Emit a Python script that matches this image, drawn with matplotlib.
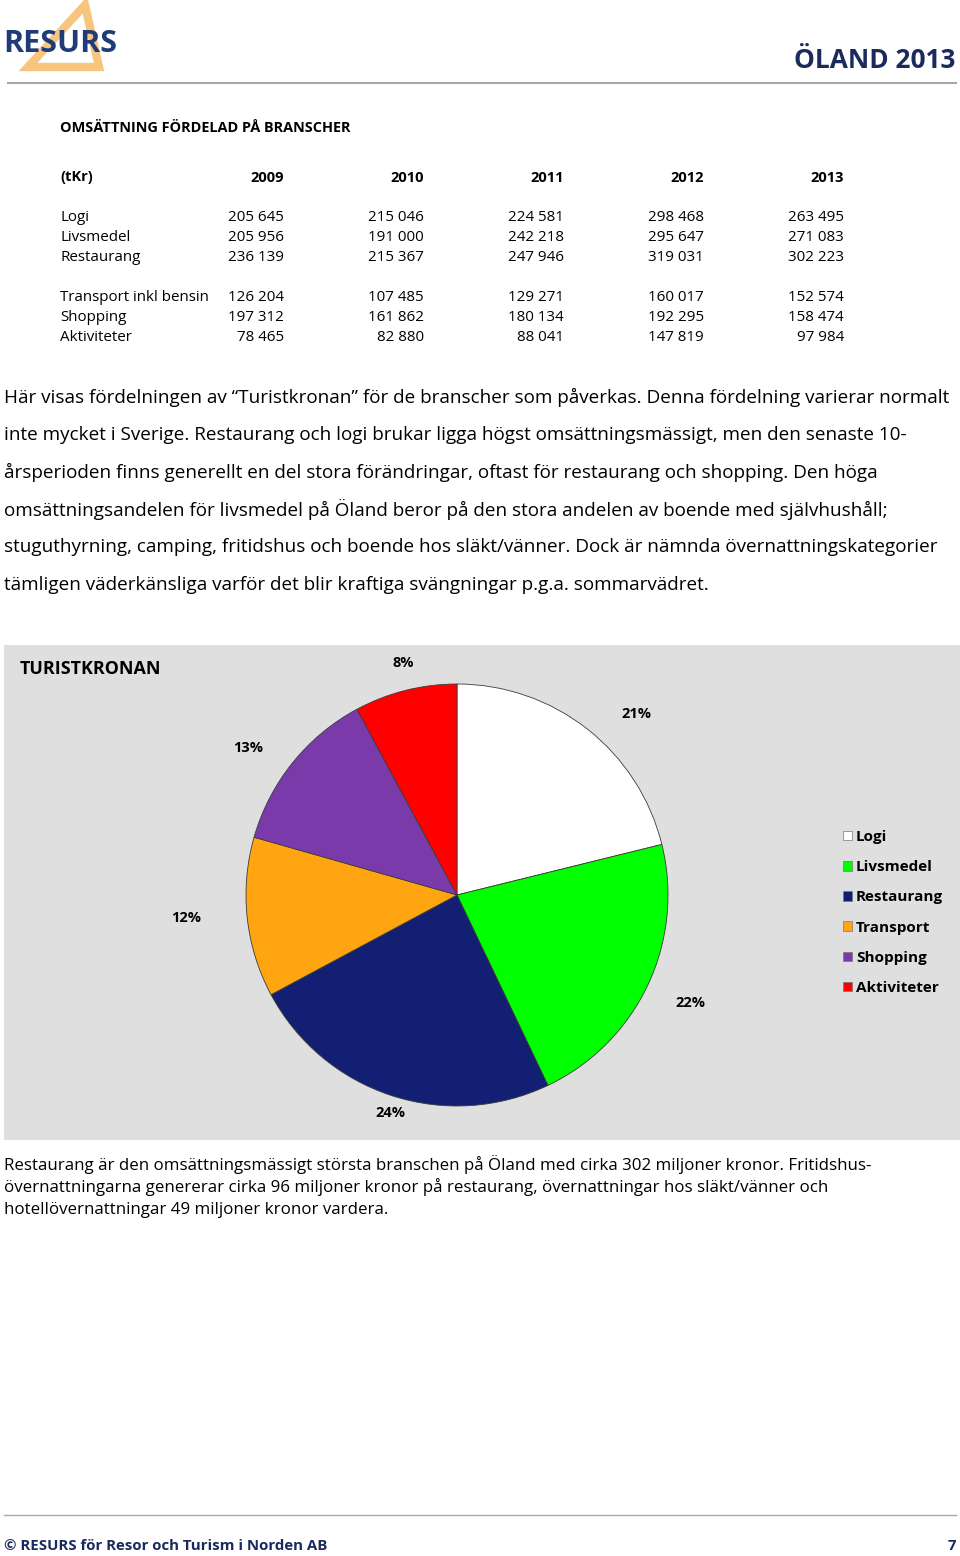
import numpy as np
import matplotlib
matplotlib.use("Agg")
import matplotlib.pyplot as plt
from matplotlib.patches import Rectangle, Polygon
from matplotlib.lines import Line2D

plt.rcParams['font.family'] = ['Open Sans', 'DejaVu Sans']

# table data (tKr)
years = ["2009", "2010", "2011", "2012", "2013"]
branscher = ["Logi", "Livsmedel", "Restaurang",
             "Transport inkl bensin", "Shopping", "Aktiviteter"]
logi = [205645, 215046, 224581, 298468, 263495]
livsmedel = [205956, 191000, 242218, 295647, 271083]
restaurang = [236139, 215367, 247946, 319031, 302223]
transport = [126204, 107485, 129271, 160017, 152574]
shopping = [197312, 161862, 180134, 192295, 158474]
aktiviteter = [78465, 82880, 88041, 147819, 97984]

# pie uses 2013 column
pie_labels = ["Logi", "Livsmedel", "Restaurang", "Transport", "Shopping", "Aktiviteter"]
pie_colors = ["#ffffff", "#00ff00", "#131f72", "#ffa511", "#7a3aaa", "#ff0000"]

text1 = [
    "Här visas fördelningen av \u201cTuristkronan\u201d för de branscher som påverkas. Denna fördelning varierar normalt",
    "inte mycket i Sverige. Restaurang och logi brukar ligga högst omsättningsmässigt, men den senaste 10-",
    "årsperioden finns generellt en del stora förändringar, oftast för restaurang och shopping. Den höga",
    "omsättningsandelen för livsmedel på Öland beror på den stora andelen av boende med självhushåll;",
    "stuguthyrning, camping, fritidshus och boende hos släkt/vänner. Dock är nämnda övernattningskategorier",
    "tämligen väderkänsliga varför det blir kraftiga svängningar p.g.a. sommarvädret.",
]
text2 = [
    "Restaurang är den omsättningsmässigt största branschen på Öland med cirka 302 miljoner kronor. Fritidshus-",
    "övernattningarna genererar cirka 96 miljoner kronor på restaurang, övernattningar hos släkt/vänner och",
    "hotellövernattningar 49 miljoner kronor vardera.",
]

W, H = 960, 1556
NAVY = "#1b2a5c"
fig = plt.figure(figsize=(W / 100, H / 100), dpi=100)
renderer = fig.canvas.get_renderer()


def fx(x):
    return x / W


def fy(y):
    return 1 - y / H


def txt(x, y, s, size=11, weight="normal", color="black", ha="left", va="center"):
    return fig.text(fx(x), fy(y + 1.5), s, fontsize=size, fontweight=weight,
                    color=color, ha=ha, va=va)


def fit(t, width):
    bb = t.get_window_extent(renderer)
    t.set_fontsize(t.get_fontsize() * width / bb.width)
    return t.get_fontsize()


# header
fig.add_artist(Polygon([[fx(28), fy(67)], [fx(85), fy(5)], [fx(99), fy(67)]],
                       closed=True, fill=False, edgecolor="#f8c57f", lw=6,
                       joinstyle="miter", transform=fig.transFigure))
logo = txt(3, 42, "RESURS", size=26, weight="bold", color="#1f3c78")
fit(logo, 114)
fig.add_artist(Line2D([fx(8), fx(956)], [fy(83), fy(83)], color="#a8a8a8", lw=1.5))
t = txt(955, 59, "ÖLAND 2013", size=18, weight="bold", color=NAVY, ha="right")
fit(t, 162)

# table
t = txt(60, 127, "OMSÄTTNING FÖRDELAD PÅ BRANSCHER", size=10.5, weight="bold")
fit(t, 295)
t = txt(60, 176, "(tKr)", size=10.5, weight="bold")
col_x = [284, 424, 564, 704, 844]
for cx, yr in zip(col_x, years):
    txt(cx, 176, yr, size=t.get_fontsize(), weight="bold", ha="right")

rows = [logi, livsmedel, restaurang, transport, shopping, aktiviteter]
row_y = [216, 236, 256, 296, 316, 336]
probe = txt(60, -100, "Transport inkl bensin", size=10.5)
tsize = fit(probe, 150)
probe.remove()
for name, vals, ry in zip(branscher, rows, row_y):
    txt(60, ry, name, size=tsize)
    for cx, v in zip(col_x, vals):
        txt(cx, ry, f"{v:,}".replace(",", " "), size=tsize, ha="right")

# paragraph 1
first = txt(4, 396, text1[0], size=13)
psize = fit(first, 940)
for i, line in enumerate(text1[1:], start=1):
    txt(4, 396 + i * 37.4, line, size=psize)

# chart box
fig.add_artist(Rectangle((fx(4), fy(1140)), fx(956), (1140 - 645) / H,
                         facecolor="#dfdfdf", edgecolor="none",
                         transform=fig.transFigure, zorder=0))
t = txt(20, 668, "TURISTKRONAN", size=13, weight="bold")
fit(t, 141)

cx0, cy0, R = 457, 895, 211
ax = fig.add_axes([fx(cx0 - R), fy(cy0 + R), 2 * R / W, 2 * R / H])
vals2013 = [r[-1] for r in rows]
wedges, texts, autotexts = ax.pie(
    vals2013, colors=pie_colors, startangle=90, counterclock=False,
    autopct=lambda p: f"{p:.0f}%", pctdistance=1.2, radius=1,
    wedgeprops=dict(edgecolor="#3c3c3c", linewidth=0.6),
    textprops=dict(fontsize=10.5, fontweight="bold"))
label_dist = [1.21, 1.22, 1.08, 1.29, 1.21, 1.13]
label_turn = [-6.7, 0.6, 1.1, -1.2, 3.5, -1.1]
for w, at, d, a in zip(wedges, autotexts, label_dist, label_turn):
    ang = np.deg2rad((w.theta1 + w.theta2) / 2 + a)
    at.set_position((d * np.cos(ang), d * np.sin(ang)))
ax.set_xlim(-1, 1)
ax.set_ylim(-1, 1)
ax.set_aspect("equal")
ax.axis("off")

handles = [Rectangle((0, 0), 1, 1, facecolor=c, edgecolor="#777777", lw=0.5)
           for c in pie_colors]
leg = fig.legend(handles, pie_labels, loc="upper left",
                 bbox_to_anchor=(fx(843), fy(830)), frameon=False,
                 prop=dict(size=11, weight="bold"), handlelength=0.6,
                 handleheight=0.6, handletextpad=0.25, labelspacing=1.06,
                 borderpad=0, borderaxespad=0)

# paragraph 2
first = txt(4, 1163, text2[0], size=11)
qsize = fit(first, 867)
for i, line in enumerate(text2[1:], start=1):
    txt(4, 1163 + i * 22.5, line, size=qsize)

# footer
fig.add_artist(Line2D([fx(4), fx(956)], [fy(1515), fy(1515)], color="#a8a8a8", lw=1))
t = txt(4, 1544, "© RESURS för Resor och Turism i Norden AB", size=11,
        weight="bold", color=NAVY)
fit(t, 324)
txt(956, 1544, "7", size=t.get_fontsize(), weight="bold", color=NAVY, ha="right")

fig.savefig("out.png", dpi=100, facecolor="white")
